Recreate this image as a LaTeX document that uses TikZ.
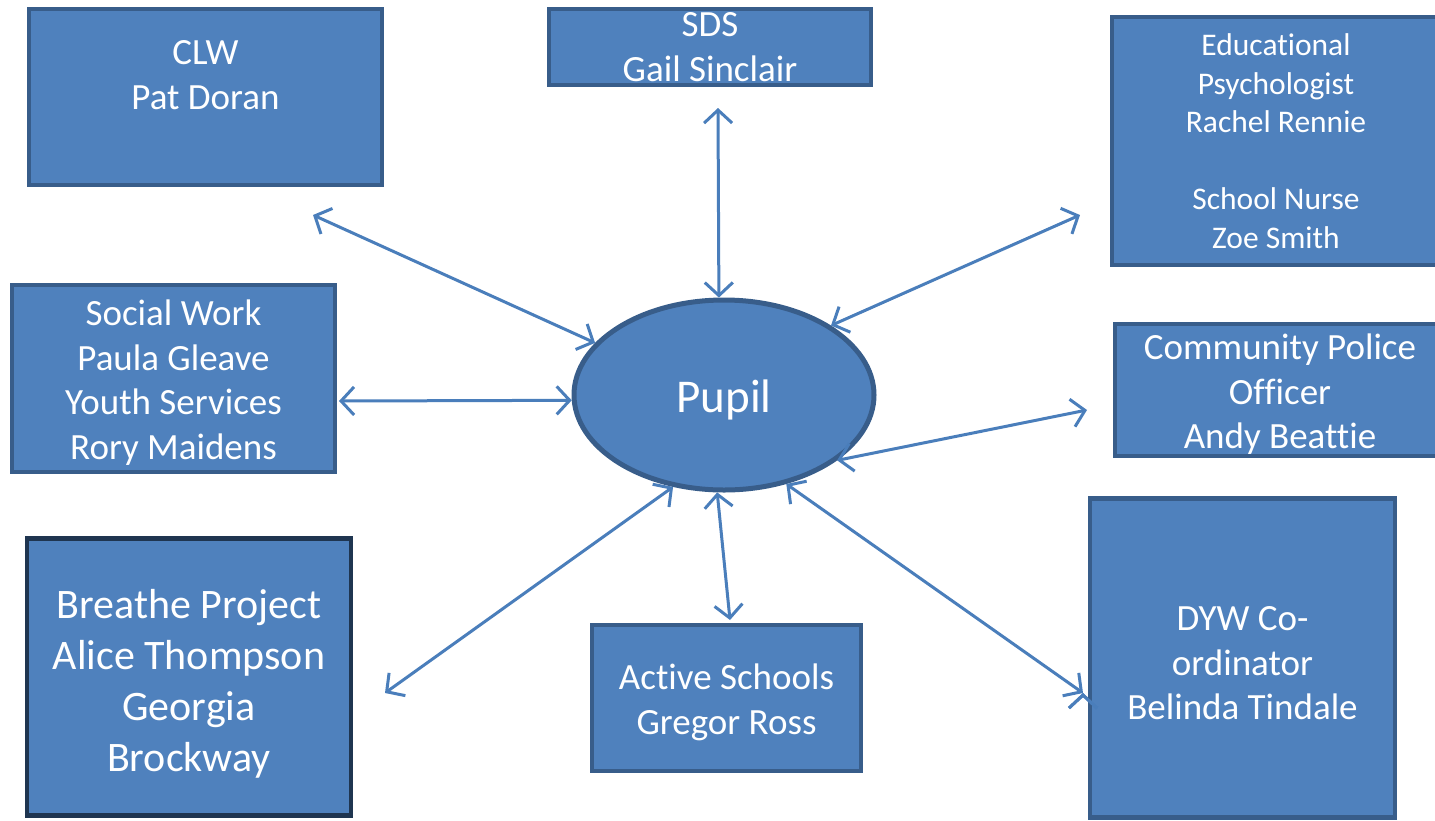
\documentclass[tikz,border=0pt]{standalone}
\usepackage{fontspec}
\setmainfont[Ligatures=CommonOff]{Carlito}
\usetikzlibrary{arrows.meta,shapes.geometric}

\definecolor{boxfill}{HTML}{4F81BD}
\definecolor{boxline}{HTML}{385D8A}
\definecolor{darkline}{HTML}{1F3550}
\definecolor{linkcol}{HTML}{4A7EBB}

% a taller first line, to set the text a little lower in its box
\newcommand\lowtop{\rule{0pt}{0.93em}}

\tikzset{
  agency/.style={rectangle,draw=boxline,fill=boxfill,line width=4.5pt,
    text=white,align=center,inner sep=0pt,font=\fontsize{37}{44.5}\selectfont},
  link/.style={draw=linkcol,line width=3pt,
    {Straight Barb[length=13pt,width=28pt]}-{Straight Barb[length=13pt,width=28pt]}}
}

\begin{document}
\begin{tikzpicture}[x=1pt,y=-1pt]
    \useasboundingbox (0,0) rectangle (1435,820);

    % the pupil in the middle
    \node[ellipse,draw=boxline,fill=boxfill,line width=5pt,text=white,
          minimum width=300pt,minimum height=190pt,
          font=\fontsize{47}{56}\selectfont] (pupil) at (724,395)
        {\rule{0pt}{0.92em}Pupil};

    % agencies round the pupil
    \node[agency,minimum width=353pt,minimum height=176pt] (clw) at (205.5,97)
        {CLW\\Pat Doran\\\mbox{}};
    \node[agency,minimum width=322pt,minimum height=76pt] (sds) at (710,47)
        {SDS\\Gail Sinclair};
    \node[agency,minimum width=328pt,minimum height=248pt,
          font=\fontsize{31.5}{38.5}\selectfont] (edu) at (1276,141)
        {Educational\\Psychologist\\Rachel Rennie\\\mbox{}\\School Nurse\\Zoe Smith};
    \node[agency,minimum width=323pt,minimum height=187pt] (social) at (173.5,378.5)
        {\lowtop Social Work\\Paula Gleave\\Youth Services\\Rory Maidens};
    \node[agency,minimum width=330pt,minimum height=132pt] (police) at (1280,390)
        {\lowtop Community Police\\Officer\\Andy Beattie};
    \node[agency,draw=darkline,minimum width=324pt,minimum height=277pt,
          font=\fontsize{42}{51}\selectfont] (breathe) at (189,677)
        {\rule{0pt}{1.02em}Breathe Project\\Alice Thompson\\Georgia\\Brockway};
    \node[agency,minimum width=269pt,minimum height=146pt] (active) at (726.5,698)
        {\lowtop Active Schools\\Gregor Ross};
    \node[agency,minimum width=305pt,minimum height=319pt] (dyw) at (1242.5,658)
        {\lowtop DYW Co-\\ordinator\\Belinda Tindale};

    % free ends of the links
    \coordinate (clw-end)     at (313,215);
    \coordinate (sds-end)     at (718,108);
    \coordinate (edu-end)     at (1080,215);
    \coordinate (social-end)  at (339,401);
    \coordinate (police-end)  at (1087,410);
    \coordinate (breathe-end) at (385,693);
    \coordinate (active-end)  at (730,620);
    \coordinate (dyw-end)     at (1083,693);

    \path[link] (clw-end)     edge (pupil.158.8)
                (sds-end)     edge (pupil.93)
                (edu-end)     edge (pupil.33)
                (social-end)  edge (pupil.182)
                (police-end)  edge (pupil.-30)
                (breathe-end) edge (pupil.241)
                (active-end)  edge (pupil.266)
                (dyw-end)     edge (pupil.-55);
\end{tikzpicture}
\end{document}
